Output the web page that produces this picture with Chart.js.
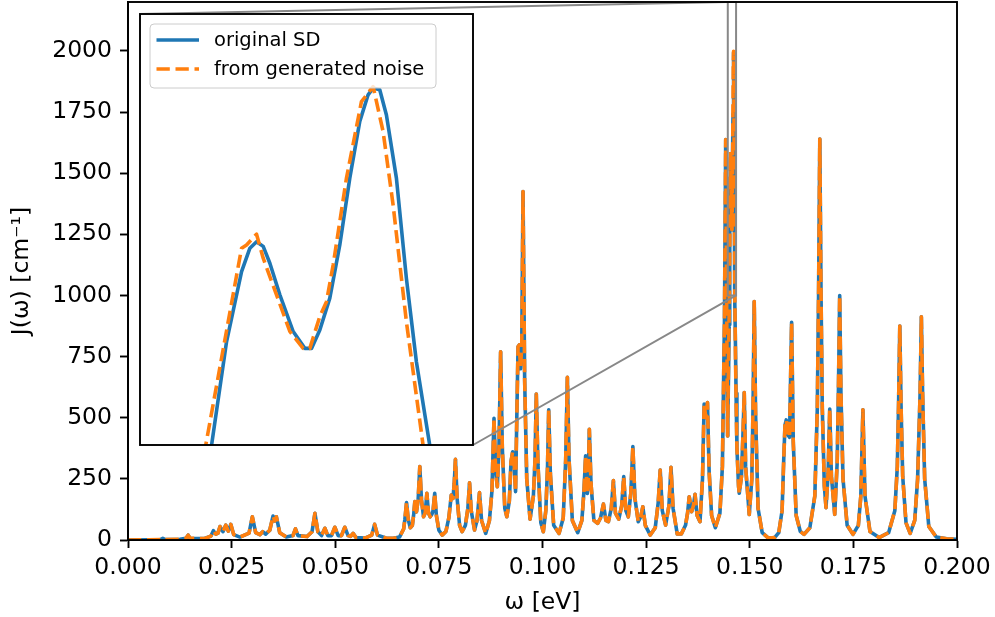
<!DOCTYPE html>
<html>
<head>
<meta charset="utf-8">
<title>Spectral density</title>
<script src="https://cdn.jsdelivr.net/npm/chart.js@4.4.1/dist/chart.umd.min.js"></script>
<style>
  html, body { margin: 0; padding: 0; background: #fff; }
  #wrap { position: relative; width: 995px; height: 617px; }
  #sd { position: absolute; left: 0; top: 0; }
  #zoom { position: absolute; left: 139px; top: 13px; }
</style>
</head>
<body>
<div id="wrap">
  <canvas id="sd" width="995" height="617"></canvas>
  <canvas id="zoom" width="335" height="433"></canvas>
</div>
<script>
/* ---------- DATA ---------- */
// spectrum outside the zoomed window (both curves lie on top of each other here)
const omega = [
  0.0000, 0.0050, 0.0078, 0.0084, 0.0090, 0.0125, 0.0140, 0.0145, 0.0150, 0.0185,
  0.0200, 0.0206, 0.0212, 0.0217, 0.0222, 0.0229, 0.0236, 0.0242, 0.0248, 0.0255,
  0.0270, 0.0292, 0.0300, 0.0308, 0.0318, 0.0325, 0.0332, 0.0342, 0.0350, 0.0354,
  0.0358, 0.0366, 0.0382, 0.0398, 0.0404, 0.0410, 0.0432, 0.0444, 0.0451, 0.0458,
  0.0467, 0.0475, 0.0482, 0.0491, 0.0499, 0.0507, 0.0515, 0.0523, 0.0531, 0.0537,
  0.0543, 0.0550, 0.0572, 0.0588, 0.0595, 0.0602, 0.0622, 0.0640, 0.0655, 0.0665,
  0.0668, 0.0672, 0.0676, 0.0681, 0.0686, 0.0689, 0.0692, 0.0696, 0.0700, 0.0704,
  0.0708, 0.0713, 0.0717, 0.0721, 0.0725, 0.0729, 0.0733, 0.0736, 0.0740, 0.0744,
  0.0750, 0.0758, 0.0767, 0.0774, 0.0780, 0.0784, 0.0787, 0.0790, 0.0794, 0.0800,
  0.0806, 0.0814, 0.0820, 0.0824, 0.0828, 0.0836, 0.0842, 0.0848, 0.0853, 0.0863,
  0.0872, 0.0878, 0.0883, 0.0887, 0.0891, 0.0895, 0.0899, 0.0903, 0.0909, 0.0914,
  0.0920, 0.0924, 0.0928, 0.0932, 0.0935, 0.0938, 0.0941, 0.0944, 0.0947, 0.0950,
  0.0953, 0.0957, 0.0962, 0.0970, 0.0978, 0.0982, 0.0985, 0.0989, 0.0996, 0.1002,
  0.1008, 0.1012, 0.1015, 0.1019, 0.1027, 0.1040, 0.1050, 0.1056, 0.1060, 0.1064,
  0.1072, 0.1085, 0.1095, 0.1100, 0.1104, 0.1108, 0.1110, 0.1113, 0.1117, 0.1124,
  0.1133, 0.1140, 0.1147, 0.1153, 0.1159, 0.1166, 0.1171, 0.1176, 0.1184, 0.1191,
  0.1196, 0.1201, 0.1207, 0.1213, 0.1218, 0.1223, 0.1231, 0.1237, 0.1242, 0.1248,
  0.1260, 0.1272, 0.1279, 0.1284, 0.1289, 0.1297, 0.1305, 0.1310, 0.1315, 0.1325,
  0.1335, 0.1345, 0.1350, 0.1354, 0.1360, 0.1364, 0.1368, 0.1373, 0.1380, 0.1386,
  0.1390, 0.1394, 0.1398, 0.1402, 0.1408, 0.1417, 0.1428, 0.1434, 0.1439, 0.1442,
  0.14445, 0.14466,
  0.1469, 0.1473, 0.14747, 0.1480, 0.1484, 0.14867, 0.1490, 0.14988, 0.1505, 0.1508,
  0.15108, 0.1514, 0.1520, 0.1530, 0.1545, 0.1560, 0.1570, 0.1578, 0.1582, 0.1585,
  0.1588, 0.1592, 0.1596, 0.1601, 0.1605, 0.1612, 0.1622, 0.1631, 0.1645, 0.1657,
  0.1663, 0.1666, 0.1669, 0.1672, 0.1675, 0.1680, 0.1684, 0.1689, 0.1693, 0.1697,
  0.1705, 0.1711, 0.1714, 0.1717, 0.1720, 0.1725, 0.1735, 0.1749, 0.1762, 0.1768,
  0.1773, 0.1778, 0.1790, 0.1812, 0.1835, 0.1850, 0.1856, 0.1859, 0.1862, 0.1865,
  0.1869, 0.1877, 0.1887, 0.1898, 0.1905, 0.1911, 0.1914, 0.1917, 0.1922, 0.1932,
  0.1950, 0.1975, 0.2000
];
const sdJ = [
  0, 1, 2, 7, 2, 3, 7, 20, 7, 6,
  16, 38, 24, 28, 55, 34, 61, 36, 64, 22,
  12, 28, 95, 30, 22, 34, 24, 40, 98, 78,
  95, 30, 12, 18, 46, 18, 14, 34, 109, 34,
  18, 48, 18, 18, 52, 18, 18, 52, 18, 15,
  27, 10, 8, 20, 64, 20, 8, 7, 12, 45,
  85, 153, 85, 50, 60, 100, 157, 115, 165, 300,
  165, 95, 110, 191, 110, 95, 105, 120, 191, 100,
  40, 20, 35, 90, 184, 170, 230, 330, 170, 60,
  34, 60, 130, 234, 120, 41, 80, 194, 80, 27,
  80, 200, 498, 280, 218, 380, 770, 380, 130, 95,
  160, 320, 361, 300, 198, 500, 790, 798, 700, 800,
  1425, 650, 250, 85, 180, 330, 597, 310, 70, 34,
  120, 290, 532, 270, 60, 27, 90, 330, 665, 330,
  80, 30, 80, 200, 344, 190, 230, 453, 230, 80,
  68, 90, 147, 80, 75, 130, 243, 110, 85, 140,
  259, 120, 95, 190, 382, 170, 75, 95, 136, 60,
  20, 50, 150, 286, 120, 61, 140, 297, 130, 25,
  25, 60, 110, 177, 116, 140, 187, 100, 75, 250,
  556, 500, 562, 280, 100, 50, 110, 300, 900, 1638,
  900, 425,
  380, 220, 191, 260, 450, 603, 300, 104, 250, 550,
  975, 520, 130, 30, 8, 10, 30, 120, 330, 470,
  491, 430, 420, 890, 400, 100, 35, 23, 50, 180,
  540, 1000, 1640, 1000, 540, 220, 132, 270, 535, 260,
  105, 320, 620, 1000, 600, 250, 60, 23, 60, 180,
  532, 180, 35, 10, 30, 120, 300, 550, 875, 550,
  260, 70, 27, 80, 250, 600, 913, 600, 250, 55,
  12, 5, 3
];

// samples inside the zoomed window, original spectral density
const zoomOmegaSD = [
  0.14470, 0.14490, 0.14505, 0.14513, 0.14522, 0.14531, 0.14536, 0.14540, 0.14544, 0.14548,
  0.14554, 0.14562, 0.14569, 0.14573, 0.14578, 0.14584, 0.14590, 0.14596, 0.14602, 0.14607,
  0.14610, 0.14614, 0.14618, 0.14624, 0.14630, 0.14636, 0.14644, 0.14655, 0.14670
];
const zoomJSD = [
  470, 700, 880, 1000, 1288, 1483, 1548, 1566, 1553, 1506,
  1418, 1316, 1269, 1269, 1320, 1409, 1557, 1743, 1901, 1975,
  1994, 1989, 1919, 1743, 1464, 1232, 1000, 800, 600
];

// samples inside the zoomed window, recovered from generated noise
const zoomOmegaNoise = [
  0.14470, 0.14490, 0.145095, 0.14531, 0.14534, 0.14540, 0.14544, 0.14552, 0.14560, 0.14568,
  0.14572, 0.14578, 0.14582, 0.14586, 0.14594, 0.14603, 0.14610, 0.14616, 0.14622, 0.14630,
  0.14640, 0.14655, 0.14670
];
const zoomJNoise = [
  480, 760, 1000, 1548, 1557, 1587, 1520, 1418, 1316, 1269,
  1269, 1358, 1399, 1501, 1743, 1956, 1998, 1873, 1669, 1343,
  1000, 760, 580
];

const xTicks = [0, 0.025, 0.05, 0.075, 0.1, 0.125, 0.15, 0.175, 0.2];
const yTicks = [0, 250, 500, 750, 1000, 1250, 1500, 1750, 2000];

const zoomX = [0.1447, 0.1467];
const zoomY = [1000, 2200];

const seriesNames = ["original SD", "from generated noise"];

/* ---------- STYLE ---------- */
const BLUE = "#1f77b4";
const ORANGE = "#ff7f0e";
const LW = 3.6;
const DASH = [13.3, 5.7];
const FONT = "'DejaVu Sans', sans-serif";

// inset box in page pixels (matches the css of #zoom plus 1px padding)
const INSET = { left: 140, top: 14, right: 473, bottom: 445 };

Chart.defaults.font.family = FONT;
Chart.defaults.color = "#000";

function merge(zx, zy) {
  const pts = [];
  omega.forEach((w, i) => { if (w < zoomX[0]) pts.push({ x: w, y: sdJ[i] }); });
  zx.forEach((w, i) => pts.push({ x: w, y: zy[i] }));
  omega.forEach((w, i) => { if (w > zoomX[1]) pts.push({ x: w, y: sdJ[i] }); });
  return pts;
}

const sdPoints = merge(zoomOmegaSD, zoomJSD);
const noisePoints = merge(zoomOmegaNoise, zoomJNoise);

// chart.js paints lower "order" last, so the dashed curve goes on top
function makeDatasets() {
  return [
    {
      label: seriesNames[0],
      data: sdPoints,
      borderColor: BLUE,
      borderWidth: LW,
      pointRadius: 0,
      borderJoinStyle: "round",
      tension: 0,
      order: 2
    },
    {
      label: seriesNames[1],
      data: noisePoints,
      borderColor: ORANGE,
      borderWidth: LW,
      borderDash: DASH,
      pointRadius: 0,
      borderJoinStyle: "round",
      tension: 0,
      order: 1
    }
  ];
}

// no extra room for half tick labels, the layout padding handles that
function noLabelPadding(s) {
  s.paddingTop = 0;
  s.paddingBottom = 0;
  s.paddingLeft = 0;
  s.paddingRight = 0;
}

/* ---------- MAIN AXES ---------- */
const framePlugin = {
  id: "frame",
  afterDatasetsDraw(chart) {
    const { ctx, chartArea: a, scales } = chart;
    const x0 = scales.x.getPixelForValue(zoomX[0]);
    const x1 = scales.x.getPixelForValue(zoomX[1]);
    const y0 = scales.y.getPixelForValue(zoomY[0]);
    const y1 = scales.y.getPixelForValue(zoomY[1]);
    ctx.save();
    // zoom rectangle and connector lines
    ctx.strokeStyle = "#888";
    ctx.lineWidth = 2;
    ctx.strokeRect(x0, y1, x1 - x0, y0 - y1);
    ctx.beginPath();
    ctx.moveTo(INSET.left, INSET.top);
    ctx.lineTo(x0, y1);
    ctx.moveTo(INSET.right, INSET.bottom);
    ctx.lineTo(x1, y0);
    ctx.stroke();
    // spines
    ctx.strokeStyle = "#000";
    ctx.lineWidth = 1.9;
    ctx.strokeRect(a.left, a.top, a.right - a.left, a.bottom - a.top);
    ctx.restore();
  }
};

new Chart(document.getElementById("sd"), {
  type: "line",
  data: { datasets: makeDatasets() },
  options: {
    responsive: false,
    animation: false,
    events: [],
    layout: { padding: { left: 0, top: 2, right: 38, bottom: 0 } },
    plugins: { legend: { display: false }, tooltip: { enabled: false } },
    scales: {
      x: {
        type: "linear",
        min: 0,
        max: 0.2,
        afterBuildTicks: s => { s.ticks = xTicks.map(v => ({ value: v })); },
        afterFit: s => { s.height = 77; noLabelPadding(s); },
        grid: { drawOnChartArea: false, tickLength: 8, tickWidth: 1.9, tickColor: "#000" },
        border: { color: "#000", width: 1.9 },
        ticks: {
          font: { size: 23.5 },
          padding: 6,
          maxRotation: 0,
          autoSkip: false,
          callback: v => v.toFixed(3)
        },
        title: { display: true, text: "ω [eV]", font: { size: 23.5 }, padding: { top: 0, bottom: 0 } }
      },
      y: {
        type: "linear",
        min: 0,
        max: 2200,
        afterBuildTicks: s => { s.ticks = yTicks.map(v => ({ value: v })); },
        afterFit: s => { s.width = 128; noLabelPadding(s); },
        grid: { drawOnChartArea: false, tickLength: 8, tickWidth: 1.9, tickColor: "#000" },
        border: { color: "#000", width: 1.9 },
        ticks: { font: { size: 23.5 }, padding: 8, callback: v => String(v) },
        title: { display: true, text: "J(ω) [cm⁻¹]", font: { size: 23.5 }, padding: { top: 8, bottom: 0 } }
      }
    }
  },
  plugins: [framePlugin]
});

/* ---------- INSET ---------- */
const insetPlugin = {
  id: "insetBox",
  beforeDraw(chart) {
    const { ctx, width, height } = chart;
    ctx.save();
    ctx.fillStyle = "#fff";
    ctx.fillRect(0, 0, width, height);
    ctx.restore();
  },
  afterDraw(chart) {
    const { ctx, chartArea: a } = chart;
    ctx.save();
    ctx.strokeStyle = "#000";
    ctx.lineWidth = 1.9;
    ctx.strokeRect(a.left, a.top, a.right - a.left, a.bottom - a.top);

    // legend, upper left
    const bx = a.left + 10, by = a.top + 10, bw = 286, bh = 64;
    ctx.beginPath();
    ctx.roundRect(bx, by, bw, bh, 4);
    ctx.fillStyle = "rgba(255,255,255,0.8)";
    ctx.fill();
    ctx.strokeStyle = "#cccccc";
    ctx.lineWidth = 1;
    ctx.stroke();

    const rows = [by + 16, by + 45];
    const ds = chart.data.datasets;
    ds.forEach((d, i) => {
      ctx.beginPath();
      ctx.strokeStyle = d.borderColor;
      ctx.lineWidth = LW;
      ctx.setLineDash(d.borderDash || []);
      ctx.moveTo(bx + 6.5, rows[i]);
      ctx.lineTo(bx + 49, rows[i]);
      ctx.stroke();
      ctx.setLineDash([]);
      ctx.fillStyle = "#000";
      ctx.font = "19.5px " + FONT;
      ctx.textBaseline = "middle";
      ctx.fillText(d.label, bx + 64, rows[i] + 1);
    });
    ctx.restore();
  }
};

new Chart(document.getElementById("zoom"), {
  type: "line",
  data: { datasets: makeDatasets() },
  options: {
    responsive: false,
    animation: false,
    events: [],
    layout: { padding: 1 },
    plugins: { legend: { display: false }, tooltip: { enabled: false } },
    scales: {
      x: { type: "linear", display: false, min: zoomX[0], max: zoomX[1] },
      y: { type: "linear", display: false, min: zoomY[0], max: zoomY[1] }
    }
  },
  plugins: [insetPlugin]
});
</script>
</body>
</html>
